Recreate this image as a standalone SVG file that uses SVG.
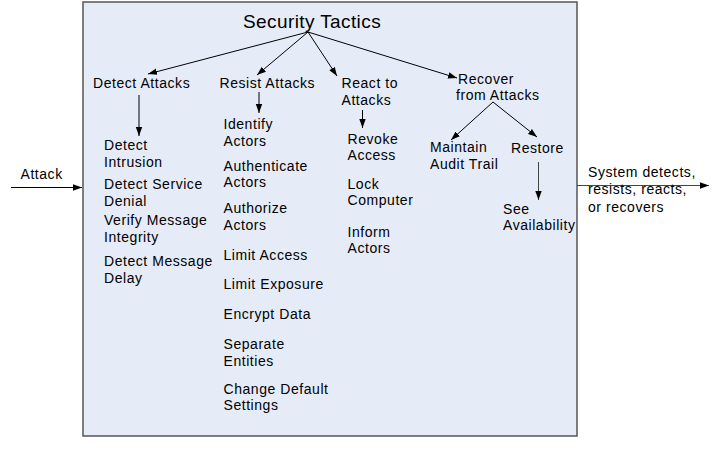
<svg xmlns="http://www.w3.org/2000/svg" width="715" height="461" viewBox="0 0 715 461">
<defs>
<marker id="ah" markerUnits="userSpaceOnUse" markerWidth="10" markerHeight="8" refX="9" refY="4" orient="auto">
<path d="M0,0.8 L9,4 L0,7.2 Z" fill="#000"/>
</marker>
<style>
text{font-family:"Liberation Sans",Arial,sans-serif;font-size:14px;letter-spacing:0.55px;fill:#000}
.title{font-size:19px;letter-spacing:0.4px}
.c{stroke:#000;stroke-width:1;fill:none;marker-end:url(#ah)}
.g{stroke:#444}
</style>
</defs>
<rect width="715" height="461" fill="#fff"/>
<g id="container">
<rect x="83" y="2" width="494" height="434" fill="#E6ECF7" stroke="#555" stroke-width="1.5"/>
</g>
<g id="connectors">
<line class="c" x1="11" y1="187.5" x2="82" y2="187.5"/>
<line class="c g" x1="577" y1="185.5" x2="709" y2="185.5"/>
<line class="c" x1="308" y1="32" x2="148" y2="74"/>
<line class="c" x1="308" y1="32" x2="257" y2="75"/>
<line class="c" x1="308" y1="32" x2="337" y2="76"/>
<line class="c" x1="308" y1="32" x2="457" y2="78"/>
<line class="c" x1="139" y1="95" x2="139" y2="136"/>
<line class="c" x1="259" y1="92" x2="259" y2="113"/>
<line class="c" x1="362.5" y1="110" x2="362.5" y2="128"/>
<line class="c" x1="493" y1="102" x2="451" y2="140"/>
<line class="c" x1="493" y1="102" x2="537" y2="137"/>
<line class="c g" x1="538.5" y1="162" x2="538.5" y2="200"/>
</g>
<g id="title"><text class="title" x="243" y="28">Security Tactics</text></g>
<g id="attack"><text x="20.5" y="179">Attack</text></g>
<g id="output"><text x="588" y="177">System detects,</text><text x="588" y="194">resists, reacts,</text><text x="588" y="211.5">or recovers</text></g>
<g id="detect-attacks">
<text x="93" y="87.5">Detect Attacks</text>
<text x="104" y="150">Detect</text><text x="104" y="167">Intrusion</text>
<text x="104" y="188.5">Detect Service</text><text x="104" y="205.5">Denial</text>
<text x="104" y="225">Verify Message</text><text x="104" y="242">Integrity</text>
<text x="104" y="266">Detect Message</text><text x="104" y="282.5">Delay</text>
</g>
<g id="resist-attacks">
<text x="219.5" y="87.5">Resist Attacks</text>
<text x="223.5" y="128.5">Identify</text><text x="223.5" y="145.5">Actors</text>
<text x="223.5" y="170.5">Authenticate</text><text x="223.5" y="187">Actors</text>
<text x="223.5" y="213">Authorize</text><text x="223.5" y="229.5">Actors</text>
<text x="223.5" y="259.5">Limit Access</text>
<text x="223.5" y="289">Limit Exposure</text>
<text x="223.5" y="318.5">Encrypt Data</text>
<text x="223.5" y="349">Separate</text><text x="223.5" y="365.5">Entities</text>
<text x="223.5" y="393.5">Change Default</text><text x="223.5" y="410">Settings</text>
</g>
<g id="react-to-attacks">
<text x="341.5" y="87.5">React to</text><text x="341.5" y="104.5">Attacks</text>
<text x="347.5" y="143.5">Revoke</text><text x="347.5" y="159.5">Access</text>
<text x="347.5" y="189">Lock</text><text x="347.5" y="205">Computer</text>
<text x="347.5" y="237">Inform</text><text x="347.5" y="253">Actors</text>
</g>
<g id="recover-from-attacks">
<text x="458" y="83.5">Recover</text><text x="456" y="100">from Attacks</text>
<text x="430" y="152">Maintain</text><text x="430" y="168.5">Audit Trail</text>
<text x="511" y="153">Restore</text>
<text x="503" y="213.5">See</text><text x="503" y="230">Availability</text>
</g>
</svg>
